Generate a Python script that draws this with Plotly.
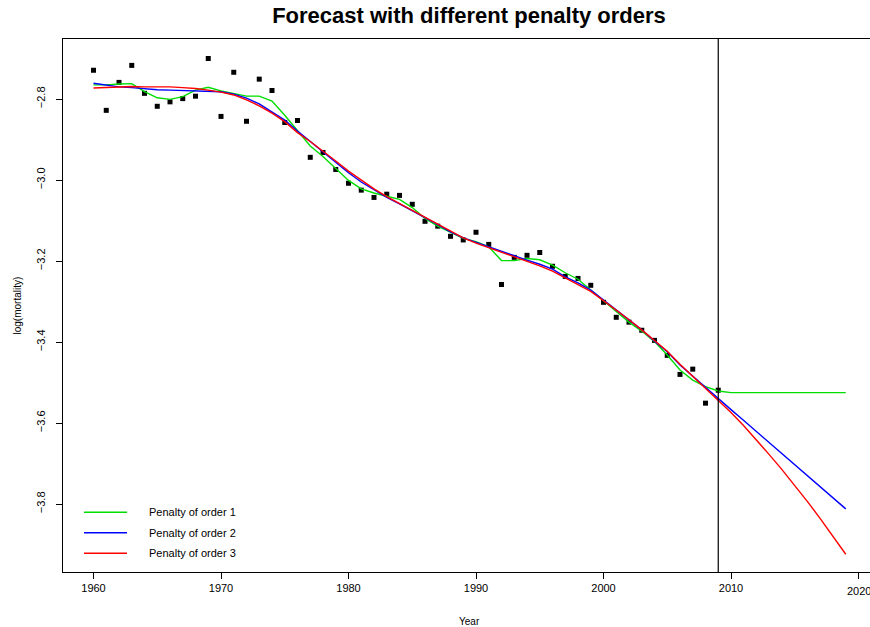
import plotly.graph_objects as go

years_obs = list(range(1960, 2010))
log_mort = [-2.729, -2.828, -2.759, -2.717, -2.786, -2.818, -2.807, -2.799, -2.793, -2.700,
            -2.843, -2.734, -2.855, -2.751, -2.779, -2.858, -2.853, -2.944, -2.932, -2.974,
            -3.008, -3.025, -3.043, -3.035, -3.038, -3.060, -3.102, -3.114, -3.139, -3.148,
            -3.129, -3.159, -3.258, -3.191, -3.186, -3.179, -3.213, -3.238, -3.243, -3.260,
            -3.302, -3.339, -3.351, -3.371, -3.396, -3.433, -3.480, -3.467, -3.551, -3.519]

years_fit = list(range(1960, 2020))
fit_order1 = [-2.765, -2.765, -2.763, -2.762, -2.782, -2.797, -2.801, -2.794, -2.778, -2.771,
              -2.780, -2.786, -2.793, -2.793, -2.805, -2.840, -2.878, -2.916, -2.942, -2.971,
              -3.001, -3.022, -3.032, -3.040, -3.048, -3.068, -3.095, -3.114, -3.130, -3.144,
              -3.152, -3.165, -3.199, -3.199, -3.194, -3.197, -3.210, -3.229, -3.245, -3.272,
              -3.299, -3.325, -3.351, -3.373, -3.399, -3.432, -3.469, -3.494, -3.510, -3.521,
              -3.525, -3.525, -3.525, -3.525, -3.525, -3.525, -3.525, -3.525, -3.525, -3.525]
fit_order2 = [-2.761, -2.765, -2.770, -2.772, -2.775, -2.777, -2.778, -2.779, -2.779, -2.780,
              -2.782, -2.788, -2.798, -2.812, -2.831, -2.852, -2.879, -2.905, -2.930, -2.957,
              -2.982, -3.005, -3.025, -3.043, -3.059, -3.075, -3.093, -3.110, -3.128, -3.143,
              -3.154, -3.165, -3.177, -3.188, -3.198, -3.208, -3.220, -3.239, -3.254, -3.272,
              -3.296, -3.321, -3.346, -3.370, -3.398, -3.424, -3.457, -3.485, -3.512, -3.540,
              -3.567, -3.594, -3.621, -3.648, -3.676, -3.703, -3.730, -3.757, -3.785, -3.812]
fit_order3 = [-2.773, -2.772, -2.770, -2.769, -2.770, -2.770, -2.770, -2.772, -2.774, -2.778,
              -2.783, -2.790, -2.802, -2.817, -2.835, -2.856, -2.883, -2.905, -2.928, -2.953,
              -2.978, -3.001, -3.022, -3.041, -3.058, -3.075, -3.093, -3.111, -3.128, -3.143,
              -3.156, -3.167, -3.178, -3.190, -3.201, -3.212, -3.225, -3.242, -3.258, -3.275,
              -3.298, -3.321, -3.345, -3.370, -3.396, -3.423, -3.455, -3.485, -3.514, -3.543,
              -3.574, -3.607, -3.642, -3.678, -3.715, -3.754, -3.794, -3.836, -3.879, -3.924]

series_names = ["Penalty of order 1", "Penalty of order 2", "Penalty of order 3"]
series_colors = ["#00dd00", "#0000ff", "#ff0000"]
last_obs_year = 2009

x_ticks = [1960, 1970, 1980, 1990, 2000, 2010, 2020]
y_ticks = [-2.8, -3.0, -3.2, -3.4, -3.6, -3.8]

FONT = "Liberation Sans, Arial, Helvetica, sans-serif"

fig = go.Figure()
fig.add_trace(go.Scatter(x=years_obs, y=log_mort, mode="markers",
                         marker=dict(symbol="square", size=5, color="black", line=dict(width=0)),
                         showlegend=False, hoverinfo="x+y"))
for name, col, vals in zip(series_names, series_colors, [fit_order1, fit_order2, fit_order3]):
    fig.add_trace(go.Scatter(x=years_fit, y=vals, mode="lines", name=name,
                             line=dict(color=col, width=1.4), showlegend=False))

# vertical line at last observed year
fig.add_shape(type="line", xref="x", yref="paper", x0=last_obs_year, x1=last_obs_year,
              y0=0, y1=1, line=dict(color="black", width=1.2))

# manual legend (R-style, no box)
W, H = 870, 627
ml, mr, mt, mb = 63, 0, 39, 55
pw, ph = W - ml - mr, H - mt - mb
def px_to_paper(px, py):
    return (px - ml) / pw, (H - mb - py) / ph

leg_y = [512.3, 532.7, 553.3]
for name, col, ly in zip(series_names, series_colors, leg_y):
    x0, y0 = px_to_paper(84, ly)
    x1, _ = px_to_paper(127, ly)
    fig.add_shape(type="line", xref="paper", yref="paper", x0=x0, x1=x1, y0=y0, y1=y0,
                  line=dict(color=col, width=1.4))
    tx, _ = px_to_paper(147, ly)
    fig.add_annotation(xref="paper", yref="paper", x=tx, y=y0, text=name, showarrow=False,
                       xanchor="left", yanchor="middle", font=dict(size=11, color="black", family=FONT))

# axis titles
ax, ay = px_to_paper(469, 621)
fig.add_annotation(xref="paper", yref="paper", x=ax, y=ay, text="Year", showarrow=False,
                   xanchor="center", yanchor="middle", font=dict(size=10, color="black", family=FONT))
bx, by = px_to_paper(17, 305.5)
fig.add_annotation(xref="paper", yref="paper", x=bx, y=by, text="log(mortality)", showarrow=False,
                   textangle=-90, xanchor="center", yanchor="middle",
                   font=dict(size=10, color="black", family=FONT))

# last x tick label (partly cut off by the window edge, as in the original)
_, ty = px_to_paper(0, 591)
fig.add_annotation(xref="x", yref="paper", x=x_ticks[-1], y=ty, text=str(x_ticks[-1]), showarrow=False,
                   xanchor="center", yanchor="middle", font=dict(size=11, color="black", family=FONT))

px_per_year = 12.75
x_left = 1960 - (93.5 - ml) / px_per_year
x_right = 1960 + (W - mr - 93.5) / px_per_year
px_per_unit = 405.0
y_top = -2.8 + (99 - mt) / px_per_unit
y_bot = -3.8 - (H - mb - 504) / px_per_unit

fig.update_layout(
    width=W, height=H,
    margin=dict(l=ml, r=mr, t=mt, b=mb),
    plot_bgcolor="white", paper_bgcolor="white",
    font=dict(family=FONT, size=11, color="black"),
    title=dict(text="<b>Forecast with different penalty orders</b>", x=(469) / W, xanchor="center",
               y=1 - 15 / H, yanchor="middle", font=dict(size=22, family=FONT, color="black")),
    xaxis=dict(range=[x_left, x_right], tickvals=x_ticks,
               ticktext=[str(t) for t in x_ticks[:-1]] + [""],
               showgrid=False, zeroline=False, showline=True, linecolor="black", linewidth=1,
               mirror=True, ticks="outside", ticklen=6, tickcolor="black", tickwidth=1,
               tickfont=dict(size=11, family=FONT, color="black")),
    yaxis=dict(range=[y_bot, y_top], tickvals=y_ticks, ticktext=["\u2212" + f"{abs(t):.1f}" for t in y_ticks],
               showgrid=False, zeroline=False, showline=True, linecolor="black", linewidth=1,
               mirror=False, ticks="outside", ticklen=6, tickcolor="black", tickwidth=1,
               tickangle=-90, ticklabelstandoff=7, tickfont=dict(size=11, family=FONT, color="black")),
)

fig.write_html("out.html")
